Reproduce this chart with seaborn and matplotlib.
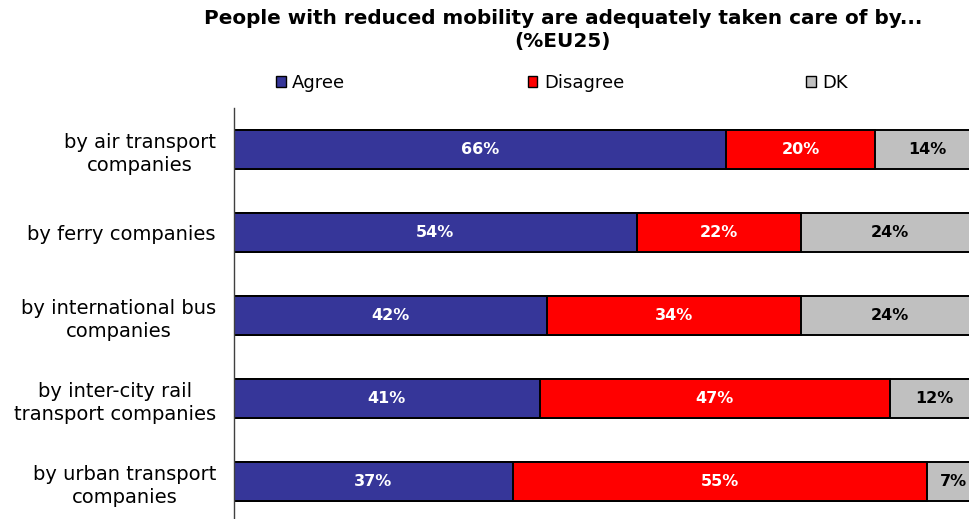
import numpy as np
import pandas as pd
import matplotlib
matplotlib.use("Agg")
import matplotlib.pyplot as plt
import seaborn as sns
from matplotlib.patches import Patch

categories = ["by air transport\ncompanies", "by ferry companies",
              "by international bus\ncompanies", "by inter-city rail\ntransport companies",
              "by urban transport\ncompanies"]
agree = [66, 54, 42, 41, 37]
disagree = [20, 22, 34, 47, 55]
dk = [14, 24, 24, 12, 7]
series_names = ["Agree", "Disagree", "DK"]
colors = ["#363699", "#FF0000", "#C0C0C0"]
title = "People with reduced mobility are adequately taken care of by...\n(%EU25)"

sns.set_style("white")
plt.rcParams['font.family'] = ['DejaVu Sans']
plt.rcParams['text.color'] = 'black'
plt.rcParams['ytick.color'] = 'black'

a = np.array(agree, float); d = np.array(disagree, float); k = np.array(dk, float)
tot = a + d + k
pa, pd_, pk = a / tot * 100, d / tot * 100, k / tot * 100  # 100% stacked

df = pd.DataFrame({"cat": categories, "c1": pa, "c2": pa + pd_, "c3": pa + pd_ + pk})

fig = plt.figure(figsize=(9.7, 5.19), dpi=100)
ax = fig.add_axes([234/970, -4.5/519, 745.5/970, 415.5/519])

for col, c in zip(["c3", "c2", "c1"], colors[::-1]):
    sns.barplot(data=df, x=col, y="cat", orient="h", color=c, width=0.47,
                edgecolor="black", linewidth=1.4, saturation=1, ax=ax)

ax.set_xlim(0, 100)
ax.set_ylim(4.5, -0.5)
ax.set_xlabel(""); ax.set_ylabel("")
ax.set_xticks([])
for s in ["top", "right", "bottom"]:
    ax.spines[s].set_visible(False)
ax.spines["left"].set_color("#404040")
ax.spines["left"].set_linewidth(1.0)
ax.tick_params(axis="y", length=0, pad=13)
for lbl in ax.get_yticklabels():
    lbl.set_fontsize(14)
    lbl.set_multialignment("center")
    lbl.set_linespacing(1.3)
    lbl.set_color("black")

for i in range(len(categories)):
    starts = [0, pa[i], pa[i] + pd_[i]]
    widths = [pa[i], pd_[i], pk[i]]
    vals = [agree[i], disagree[i], dk[i]]
    tcol = ["white", "white", "black"]
    for s, w, v, tc in zip(starts, widths, vals, tcol):
        ax.text(s + w / 2, i, f"{v}%", ha="center", va="center",
                color=tc, fontsize=11.5, fontweight="bold")

fig.text(563/970, 1 - 30/519, title, ha="center", va="center",
         fontsize=14.4, fontweight="bold", linespacing=1.3)

handles = [Patch(facecolor=c, edgecolor="black", linewidth=1.0) for c in colors]
fig.legend(handles, series_names, loc="center", bbox_to_anchor=(562/970, 1 - 83/519),
           ncol=3, frameon=False, fontsize=13, handlelength=0.55, handleheight=0.55,
           handletextpad=0.35, columnspacing=10.1)

fig.savefig("out.png", dpi=100)
